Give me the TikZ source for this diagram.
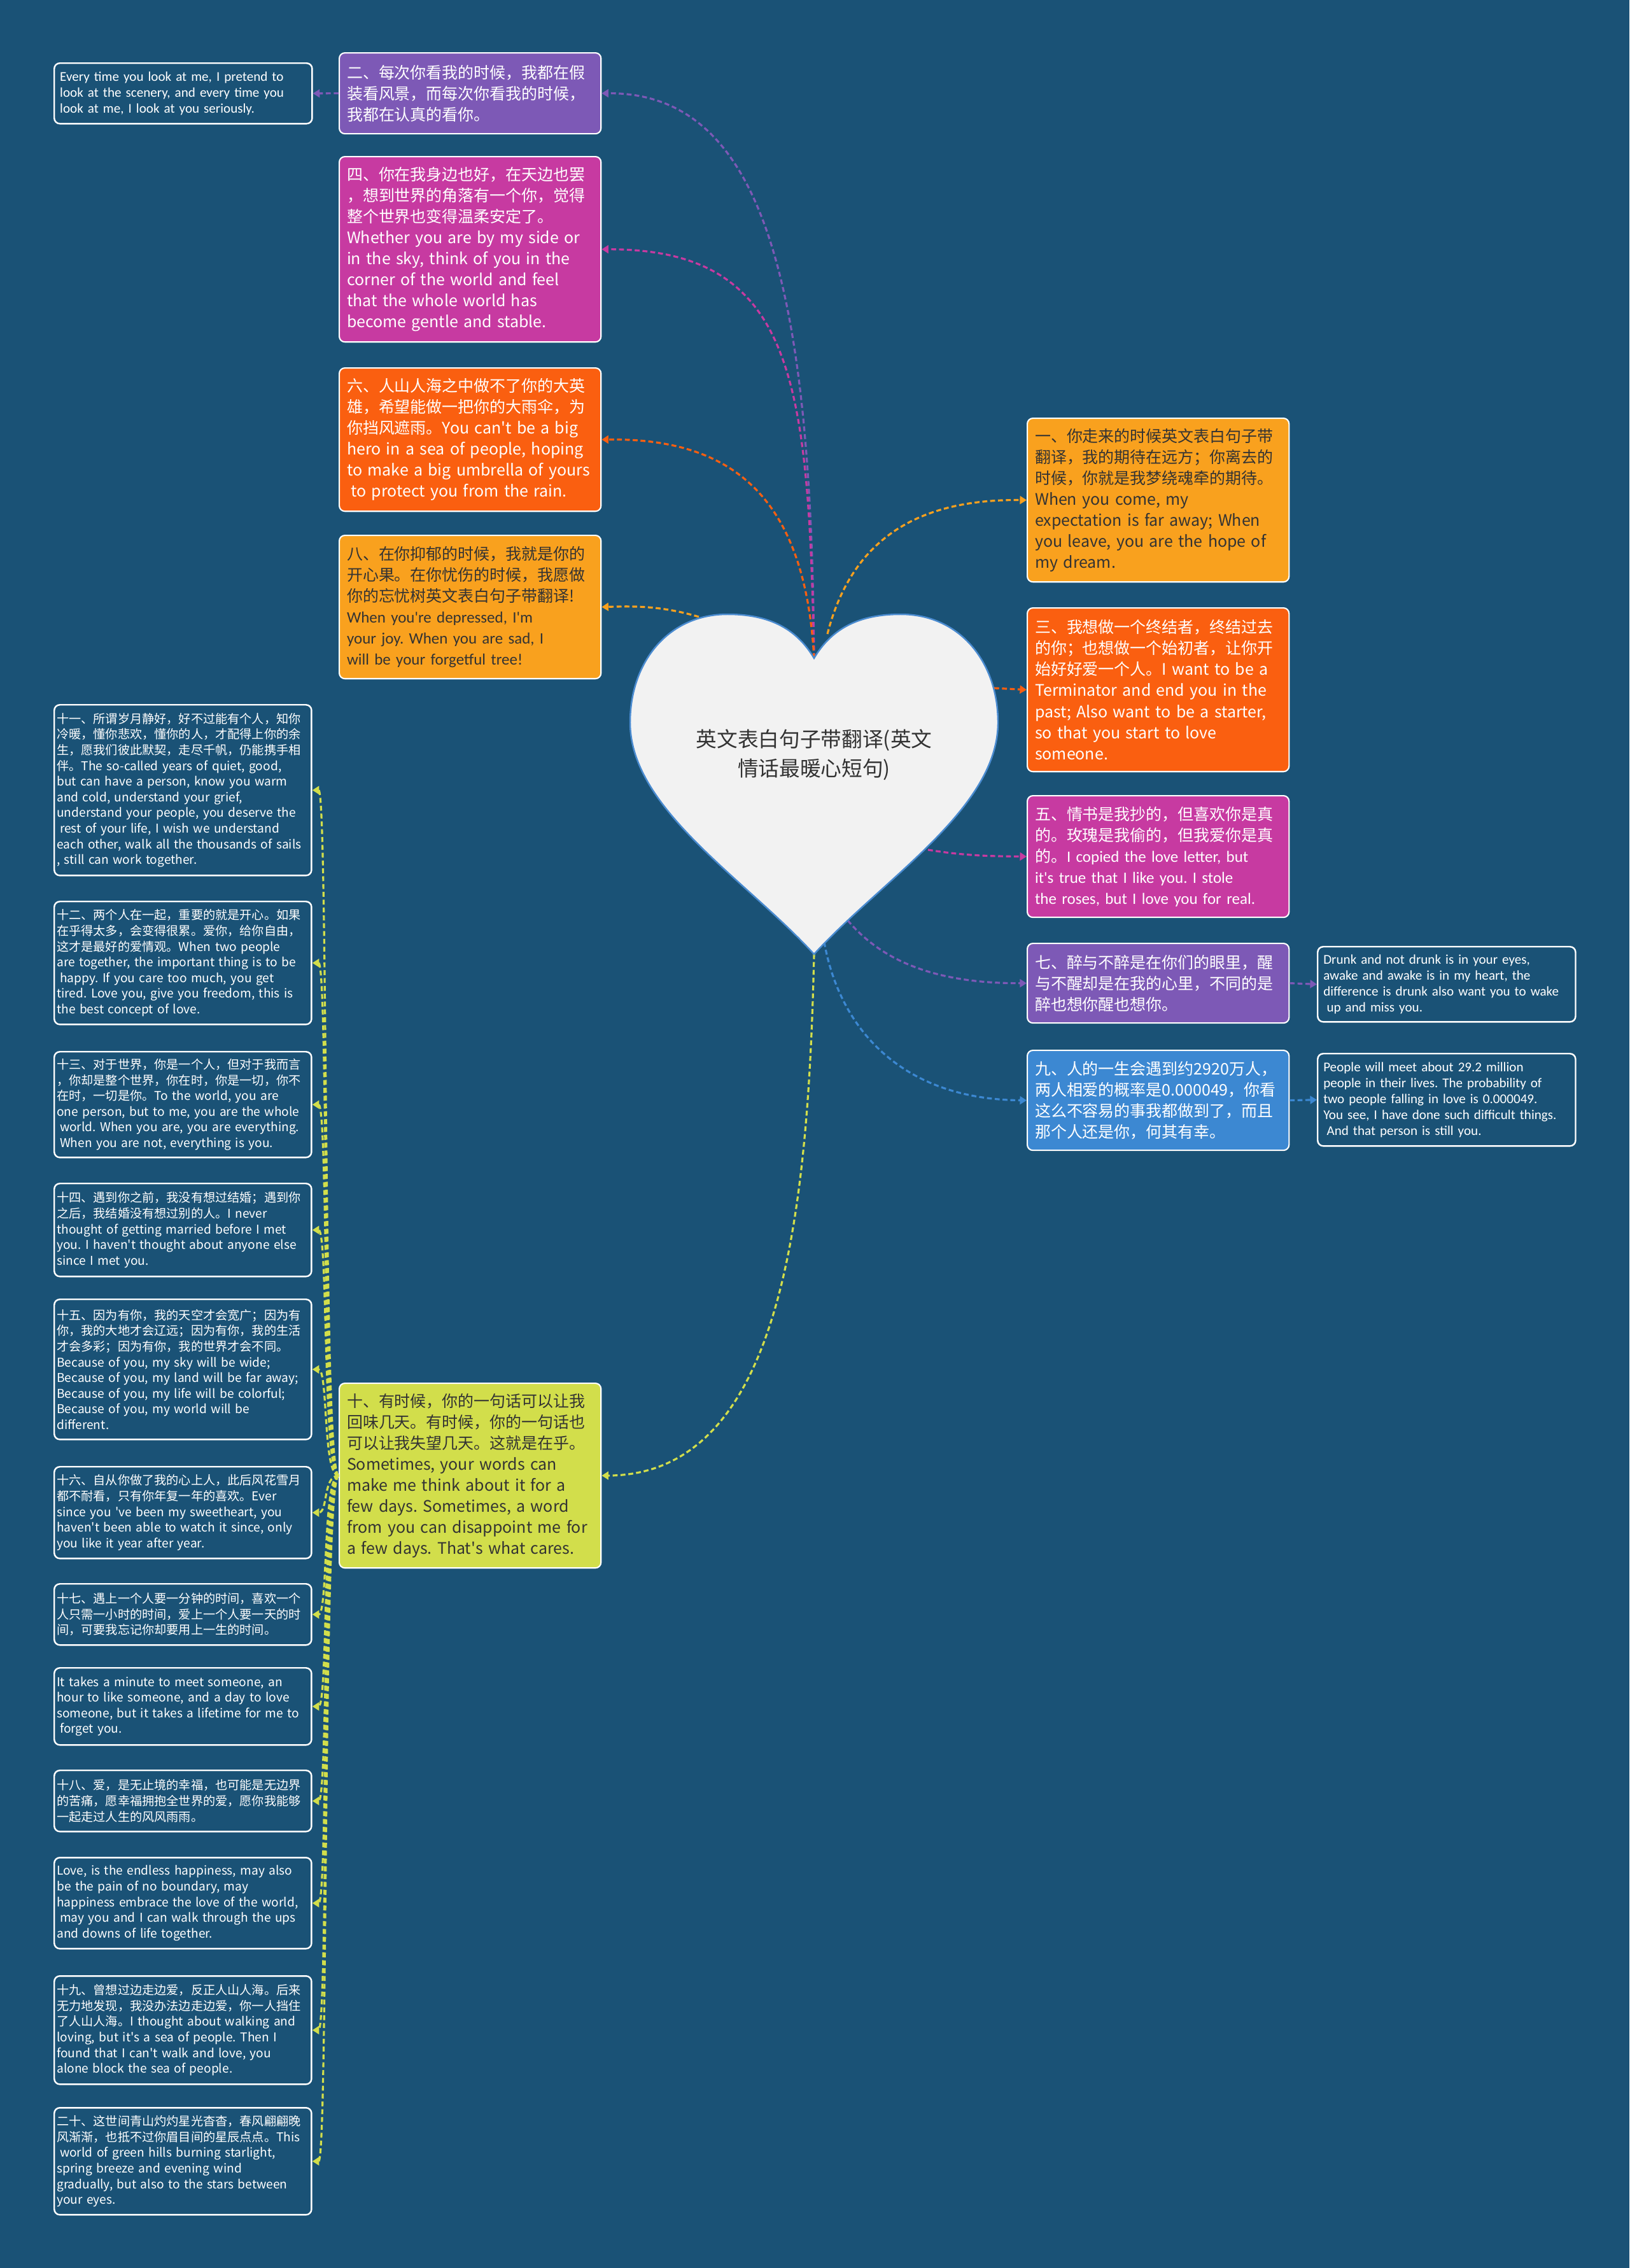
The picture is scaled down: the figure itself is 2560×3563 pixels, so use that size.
\documentclass[tikz,border=0pt]{standalone}
\usepackage{fontspec}
\setmainfont{Noto Sans CJK SC}
\newfontfamily\narrowfont{Carlito}
\usetikzlibrary{arrows.meta}
\frenchspacing

\definecolor{bgblue}{HTML}{1A5276}
\definecolor{cpurple}{HTML}{7D59B6}
\definecolor{cmagenta}{HTML}{C73AA1}
\definecolor{corange}{HTML}{FA5F10}
\definecolor{camber}{HTML}{F9A11E}
\definecolor{cblue}{HTML}{3C88D2}
\definecolor{clime}{HTML}{D2DE4B}
\definecolor{inkdark}{HTML}{333333}
\definecolor{heartfill}{HTML}{F2F2F2}
\definecolor{heartline}{HTML}{4A8BD0}

\begin{document}
\begin{tikzpicture}[
  x=0.01cm, y=-0.01cm,
  box/.style={
    rectangle, rounded corners=2.5pt, draw=white, line width=0.6pt,
    anchor=north west, align=left, inner xsep=0.12cm, inner ysep=0.05cm,
    text width=3.87cm, font=\fontsize{7.1}{9.4}\selectfont
  },
  lightbox/.style={box, text=white},
  darkbox/.style={box, text=inkdark},
  subbox/.style={
    rectangle, rounded corners=2.5pt, draw=white, line width=0.7pt,
    fill=bgblue, text=white, anchor=north west, align=left,
    inner xsep=0.04cm, inner ysep=0.04cm, text width=3.96cm,
    font=\fontsize{5.45}{7}\selectfont
  },
  narrowsub/.style={subbox, inner xsep=0.09cm, text width=3.87cm,
    font=\narrowfont\fontsize{6}{7.1}\selectfont},
  heart/.style={fill=heartfill, draw=heartline, line width=0.7pt},
  link/.style={-{Triangle[length=3pt,width=3.6pt]}, line width=0.9pt,
    dash pattern=on 2.2pt off 1.3pt},
]

% Background
\fill[bgblue] (0,0) rectangle (2560,3563);

% Left column, upper boxes
\node[lightbox, fill=cpurple, minimum height=1.27cm] (n2) at (532,82)
  {二、每次你看我的时候，我都在假\\装看风景，而每次你看我的时候，\\我都在认真的看你。};
\node[lightbox, fill=cmagenta, minimum height=2.91cm] (n4) at (532,245)
  {四、你在我身边也好，在天边也罢\\，想到世界的角落有一个你，觉得\\整个世界也变得温柔安定了。\\Whether you are by my side or\\in the sky, think of you in the\\corner of the world and feel\\that the whole world has\\become gentle and stable.};
\node[lightbox, fill=corange, minimum height=2.25cm] (n6) at (532,577)
  {六、人山人海之中做不了你的大英\\雄，希望能做一把你的大雨伞，为\\你挡风遮雨。You can\textquotesingle{}t be a big\\hero in a sea of people, hoping\\to make a big umbrella of yours\\\hspace*{.25em}to protect you from the rain.};
\node[darkbox, fill=camber, minimum height=2.25cm] (n8) at (532,840)
  {八、在你抑郁的时候，我就是你的\\开心果。在你忧伤的时候，我愿做\\你的忘忧树英文表白句子带翻译!\\\narrowfont When you\textquotesingle{}re depressed, I\textquotesingle{}m\\your joy. When you are sad, I\\will be your forgetful tree!};
\node[darkbox, fill=clime, minimum height=2.90cm] (n10) at (532,2172)
  {十、有时候，你的一句话可以让我\\回味几天。有时候，你的一句话也\\可以让我失望几天。这就是在乎。\\Sometimes, your words can\\make me think about it for a\\few days. Sometimes, a word\\from you can disappoint me for\\a few days. That\textquotesingle{}s what cares.};

% Right column boxes
\node[darkbox, fill=camber, minimum height=2.57cm] (n1) at (1613,656)
  {一、你走来的时候英文表白句子带\\翻译，我的期待在远方；你离去的\\时候，你就是我梦绕魂牵的期待。\\When you come, my\\expectation is far away; When\\you leave, you are the hope of\\my dream.};
\node[lightbox, fill=corange, minimum height=2.57cm] (n3) at (1613,954)
  {三、我想做一个终结者，终结过去\\的你；也想做一个始初者，让你开\\始好好爱一个人。I want to be a\\Terminator and end you in the\\past; Also want to be a starter,\\so that you start to love\\someone.};
\node[lightbox, fill=cmagenta, minimum height=1.91cm] (n5) at (1613,1249)
  {五、情书是我抄的，但喜欢你是真\\的。玫瑰是我偷的，但我爱你是真\\的。\narrowfont I copied the love letter, but\\it\textquotesingle{}s true that I like you. I stole\\the roses, but I love you for real.};
\node[lightbox, fill=cpurple, minimum height=1.25cm] (n7) at (1613,1481)
  {七、醉与不醉是在你们的眼里，醒\\与不醒却是在我的心里，不同的是\\醉也想你醒也想你。};
\node[lightbox, fill=cblue, minimum height=1.57cm] (n9) at (1613,1649)
  {九、人的一生会遇到约2920万人，\\两人相爱的概率是0.000049，你看\\这么不容易的事我都做到了，而且\\那个人还是你，何其有幸。};

% Translation boxes, right
\node[narrowsub, minimum height=1.18cm] (s7) at (2069,1486)
  {Drunk and not drunk is in your eyes,\\awake and awake is in my heart, the\\difference is drunk also want you to wake\\\hspace*{.25em}up and miss you.};
\node[narrowsub, minimum height=1.45cm] (s9) at (2069,1654)
  {People will meet about 29.2 million\\people in their lives. The probability of\\two people falling in love is 0.000049.\\You see, I have done such difficult things.\\\hspace*{.25em}And that person is still you.};

% Translation box, top left
\node[narrowsub, minimum height=0.95cm] (s2) at (84,98)
  {Every time you look at me, I pretend to\\look at the scenery, and every time you\\look at me, I look at you seriously.};

% Left column, small boxes
\node[subbox, minimum height=2.68cm] (s11) at (84,1106)
  {十一、所谓岁月静好，好不过能有个人，知你\\冷暖，懂你悲欢，懂你的人，才配得上你的余\\生，愿我们彼此默契，走尽千帆，仍能携手相\\伴。The so-called years of quiet, good,\\but can have a person, know you warm\\and cold, understand your grief,\\understand your people, you deserve the\\\hspace*{.25em}rest of your life, I wish we understand\\each other, walk all the thousands of sails\\, still can work together.};
\node[subbox, minimum height=1.93cm] (s12) at (84,1415)
  {十二、两个人在一起，重要的就是开心。如果\\在乎得太多，会变得很累。爱你，给你自由，\\这才是最好的爱情观。When two people\\are together, the important thing is to be\\\hspace*{.25em}happy. If you care too much, you get\\tired. Love you, give you freedom, this is\\the best concept of love.};
\node[subbox, minimum height=1.66cm] (s13) at (84,1651)
  {十三、对于世界，你是一个人，但对于我而言\\，你却是整个世界，你在时，你是一切，你不\\在时，一切是你。To the world, you are\\one person, but to me, you are the whole\\\hspace*{.25em}world. When you are, you are everything.\\\hspace*{.25em}When you are not, everything is you.};
\node[subbox, minimum height=1.46cm] (s14) at (84,1858)
  {十四、遇到你之前，我没有想过结婚；遇到你\\之后，我结婚没有想过别的人。I never\\thought of getting married before I met\\you. I haven\textquotesingle{}t thought about anyone else\\since I met you.};
\node[subbox, minimum height=2.20cm] (s15) at (84,2040)
  {十五、因为有你，我的天空才会宽广；因为有\\你，我的大地才会辽远；因为有你，我的生活\\才会多彩；因为有你，我的世界才会不同。\\Because of you, my sky will be wide;\\Because of you, my land will be far away;\\Because of you, my life will be colorful;\\Because of you, my world will be\\different.};
\node[subbox, minimum height=1.44cm] (s16) at (84,2303)
  {十六、自从你做了我的心上人，此后风花雪月\\都不耐看，只有你年复一年的喜欢。Ever\\since you \textquotesingle{}ve been my sweetheart, you\\haven\textquotesingle{}t been able to watch it since, only\\you like it year after year.};
\node[subbox, minimum height=0.96cm] (s17) at (84,2487)
  {十七、遇上一个人要一分钟的时间，喜欢一个\\人只需一小时的时间，爱上一个人要一天的时\\间，可要我忘记你却要用上一生的时间。};
\node[subbox, minimum height=1.21cm] (s17b) at (84,2619)
  {It takes a minute to meet someone, an\\hour to like someone, and a day to love\\someone, but it takes a lifetime for me to\\\hspace*{.25em}forget you.};
\node[subbox, minimum height=0.96cm] (s18) at (84,2780)
  {十八、爱，是无止境的幸福，也可能是无边界\\的苦痛，愿幸福拥抱全世界的爱，愿你我能够\\一起走过人生的风风雨雨。};
\node[subbox, minimum height=1.43cm] (s18b) at (84,2917)
  {Love, is the endless happiness, may also\\be the pain of no boundary, may\\happiness embrace the love of the world,\\\hspace*{.25em}may you and I can walk through the ups\\and downs of life together.};
\node[subbox, minimum height=1.70cm] (s19) at (84,3103)
  {十九、曾想过边走边爱，反正人山人海。后来\\无力地发现，我没办法边走边爱，你一人挡住\\了人山人海。I thought about walking and\\loving, but it\textquotesingle{}s a sea of people. Then I\\found that I can\textquotesingle{}t walk and love, you\\alone block the sea of people.};
\node[subbox, minimum height=1.68cm] (s20) at (84,3310)
  {二十、这世间青山灼灼星光杳杳，春风翩翩晚\\风渐渐，也抵不过你眉目间的星辰点点。This\\\hspace*{.25em}world of green hills burning starlight,\\spring breeze and evening wind\\gradually, but also to the stars between\\your eyes.};

% Points on the heart outline
\coordinate (hN) at (1279,1034);
\coordinate (hTip) at (1279,1499);
\coordinate (h1) at (1300,996);
\coordinate (h3) at (1562,1081);
\coordinate (h5) at (1458,1335);
\coordinate (h7) at (1332,1446);
\coordinate (h8) at (1098,969);
\coordinate (h9) at (1295,1480);

% Heart to main boxes
\draw[link, cpurple] (hN) .. controls (1275,450) and (1200,145) .. (n2.east);
\draw[link, cmagenta] (hN) .. controls (1270,600) and (1250,391) .. (n4.east);
\draw[link, corange] (hN) .. controls (1265,780) and (1150,688) .. (n6.east);
\draw[link, camber] (h8) .. controls (1040,952) and (1000,952) .. (n8.east);
\draw[link, camber] (h1) .. controls (1340,840) and (1450,784) .. (n1.west);
\draw[link, corange] (h3) -- (n3.west);
\draw[link, cmagenta] (h5) .. controls (1520,1345) and (1560,1345) .. (n5.west);
\draw[link, cpurple] (h7) .. controls (1390,1515) and (1480,1545) .. (n7.west);
\draw[link, cblue] (h9) .. controls (1320,1620) and (1420,1727) .. (n9.west);
\draw[link, clime] (hTip) .. controls (1270,1900) and (1230,2317) .. (n10.east);

% Main boxes to translations
\draw[link, cpurple] (n2.west) -- (s2.east);
\draw[link, cpurple] (n7.east) -- (s7.west);
\draw[link, cblue] (n9.east) -- (s9.west);
\foreach \leaf in {s11,s12,s13,s14,s15,s16,s17,s17b,s18,s18b,s19,s20}
  \draw[link, clime] (n10.west) .. controls +(-25,0) and +(25,0) .. (\leaf.east);

% Heart
\draw[heart] (hN) .. controls (1250,985) and (1205,965) .. (1143,965)
  .. controls (1050,965) and (990,1040) .. (990,1135)
  .. controls (990,1270) and (1170,1380) .. (hTip)
  .. controls (1388,1380) and (1568,1270) .. (1568,1135)
  .. controls (1568,1040) and (1508,965) .. (1415,965)
  .. controls (1353,965) and (1308,985) .. (hN) -- cycle;
\node[font=\fontsize{9.3}{12.9}\selectfont, text=inkdark, align=center] (root)
  at (1279,1186) {英文表白句子带翻译(英文\\情话最暖心短句)};

\end{tikzpicture}
\end{document}
